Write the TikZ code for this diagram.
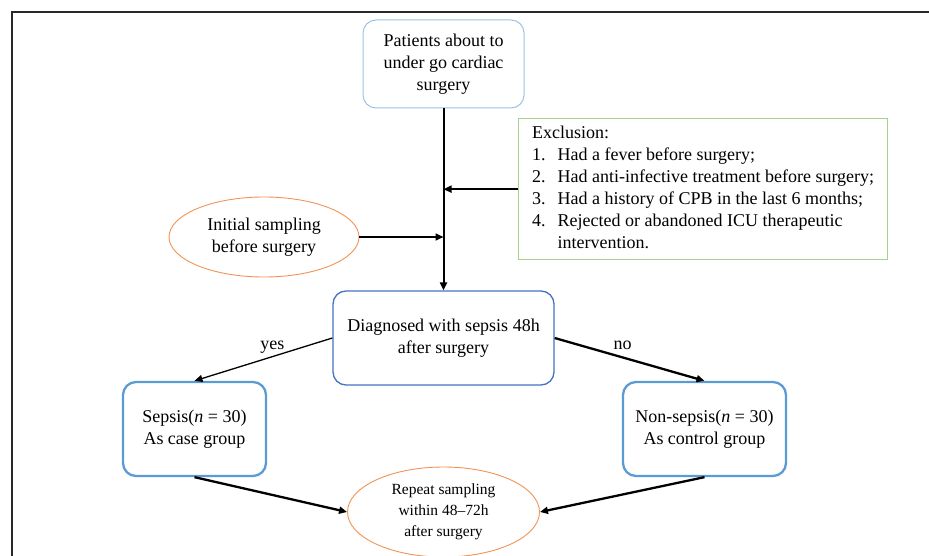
\documentclass[tikz,border=0pt]{standalone}
\usepackage{fontspec}
\setmainfont{Liberation Serif}
\usetikzlibrary{arrows.meta,shapes.geometric}

\definecolor{lightblue}{RGB}{157,195,230}
\definecolor{darkblue}{RGB}{68,114,196}
\definecolor{midblue}{RGB}{91,155,213}
\definecolor{exclgreen}{RGB}{169,209,142}
\definecolor{sampleorange}{RGB}{241,146,86}
\definecolor{framegray}{RGB}{40,40,40}

\begin{document}
\begin{tikzpicture}[x=1pt, y=-1pt,
        every node/.style={font=\fontsize{18}{22}\selectfont, align=center},
        stepbox/.style={draw, rounded corners=13pt, inner sep=0pt},
        samplebox/.style={draw=sampleorange, line width=0.9pt, ellipse, inner sep=0pt},
        flow/.style={-{Triangle[length=8pt,width=7pt]}, black}]

            % Page size and frame
            \useasboundingbox (0,0) rectangle (929,556);
            \draw[framegray, line width=1.5pt] (929,12) -- (12,12) -- (12,556);

            % Start - Patients
            \node[stepbox, draw=lightblue, line width=1pt, minimum width=161pt, minimum height=88pt]
                (patients) at (443.5,64) {Patients about to\\under go cardiac\\surgery};

            % Exclusion criteria
            \node[draw=exclgreen, line width=1.3pt, anchor=north west, minimum width=369pt,
                minimum height=141pt, inner xsep=9pt, inner ysep=0pt, align=left]
                (exclusion) at (518,118) {%
                \begin{tabular}{@{}l@{\hspace{12pt}}l@{}}
                \multicolumn{2}{@{}l@{}}{Exclusion:}\\
                1. & Had a fever before surgery;\\
                2. & Had anti-infective treatment before surgery;\\
                3. & Had a history of CPB in the last 6 months;\\
                4. & Rejected or abandoned ICU therapeutic\\
                   & intervention.
                \end{tabular}};

            % Sampling - Initial
            \node[samplebox, minimum width=190pt, minimum height=80pt]
                (initial) at (264,237) {Initial sampling\\before surgery};

            % Decision - Diagnosed
            \node[stepbox, draw=darkblue, line width=1.3pt, minimum width=221pt, minimum height=94pt]
                (diagnosed) at (443.5,338) {Diagnosed with sepsis 48h\\after surgery};

            % Group - Sepsis
            \node[stepbox, draw=midblue, line width=2.3pt, minimum width=143pt, minimum height=94pt]
                (sepsis) at (194.5,429) {Sepsis(\textit{n} = 30)\\As case group};

            % Group - Non-sepsis
            \node[stepbox, draw=midblue, line width=2.3pt, minimum width=163pt, minimum height=94pt]
                (nonsepsis) at (704.5,429) {Non-sepsis(\textit{n} = 30)\\As control group};

            % Sampling - Repeat
            \node[samplebox, minimum width=192pt, minimum height=90pt,
                font=\fontsize{15.5}{21}\selectfont]
                (repeat) at (443.5,512) {Repeat sampling\\within 48\textendash72h\\after surgery};

            % Main line and side arrows
            \draw[flow, line width=2pt] (patients.south) -- (diagnosed.north);
            \draw[flow, line width=2pt] (exclusion.west) -- (exclusion.west -| patients.south);
            \draw[flow, line width=1.6pt] (initial.east) -- (initial.east -| patients.south);

            % Yes / no branches
            \draw[flow, line width=1.3pt] (diagnosed.west) -- node[above, xshift=9pt, yshift=2pt] (yes) {yes} (sepsis.north);
            \draw[flow, line width=2.3pt] (diagnosed.east) -- node[above, xshift=-7pt, yshift=5pt] (no) {no} (nonsepsis.north);

            % Groups to repeat sampling
            \draw[flow, line width=2.3pt] (sepsis.south) -- (repeat.west);
            \draw[flow, line width=2.3pt] (nonsepsis.south) -- (repeat.east);

        \end{tikzpicture}
\end{document}
